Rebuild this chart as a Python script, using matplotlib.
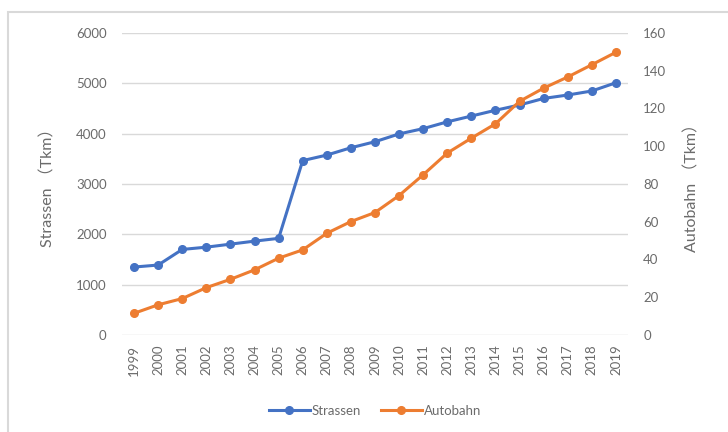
import matplotlib
matplotlib.use("Agg")
import matplotlib.pyplot as plt
from matplotlib.patches import Rectangle

plt.rcParams['font.family'] = ['Lato', 'Noto Sans CJK SC', 'DejaVu Sans']

jahre = [str(j) for j in range(1999, 2020)]
strassen = [1350, 1390, 1700, 1745, 1805, 1865, 1920, 3465, 3575, 3720, 3840,
            3995, 4100, 4235, 4350, 4465, 4570, 4700, 4768, 4848, 5012]
autobahn = [11.5, 16.0, 19.3, 25.1, 29.5, 34.5, 40.7, 45.1, 53.9, 60.1, 64.9,
            73.9, 84.9, 96.4, 104.3, 111.9, 123.8, 130.8, 136.7, 143.2, 149.8]

blau = '#4472C4'
orange = '#ED7D31'
grau_text = '#6b6b6b'
grau_linie = '#D9D9D9'

fig = plt.figure(figsize=(7.28, 4.32), dpi=100)
ax = fig.add_axes([122 / 728, 1 - 335 / 432, 506 / 728, 302 / 432])
ax2 = ax.twinx()

x = list(range(len(jahre)))
l1, = ax.plot(x, strassen, color=blau, lw=2.2, marker='o', markersize=5.5,
              label='Strassen', zorder=3)
l2, = ax2.plot(x, autobahn, color=orange, lw=2.2, marker='o', markersize=5.5,
               label='Autobahn', zorder=3)

ax.set_xlim(-0.5, len(jahre) - 0.5)
ax.set_ylim(0, 6000)
ax2.set_ylim(0, 160)
ax.set_yticks(range(0, 6001, 1000))
ax2.set_yticks(range(0, 161, 20))
ax.set_xticks(x)
ax.set_xticklabels(jahre, rotation=90)

ax.yaxis.grid(True, color=grau_linie, lw=1)
ax.set_axisbelow(True)
for a in (ax, ax2):
    for s in a.spines.values():
        s.set_visible(False)
    a.tick_params(length=0, labelsize=9.5, colors=grau_text)
ax.tick_params(axis='y', pad=11)
ax2.tick_params(axis='y', pad=11)
ax.tick_params(axis='x', pad=7)

ax.set_ylabel('Strassen （Tkm）', fontsize=11.5, color=grau_text, labelpad=15)
ax2.set_ylabel('Autobahn （Tkm）', fontsize=11.5, color=grau_text, labelpad=13,
               rotation=90)

fig.legend(handles=[l1, l2], loc='center', bbox_to_anchor=(375 / 728, 1 - 411 / 432),
           ncol=2, frameon=False, fontsize=9.5, labelcolor=grau_text,
           handlelength=3.1, handletextpad=0.15, columnspacing=1.5)

# heller Rahmen um das Diagramm
fig.patches.append(Rectangle((8 / 728, -0.1), 1.0, 1.1 - 12 / 432, transform=fig.transFigure,
                             fill=False, edgecolor=grau_linie, lw=1.5))

fig.savefig('out.png', dpi=100)
